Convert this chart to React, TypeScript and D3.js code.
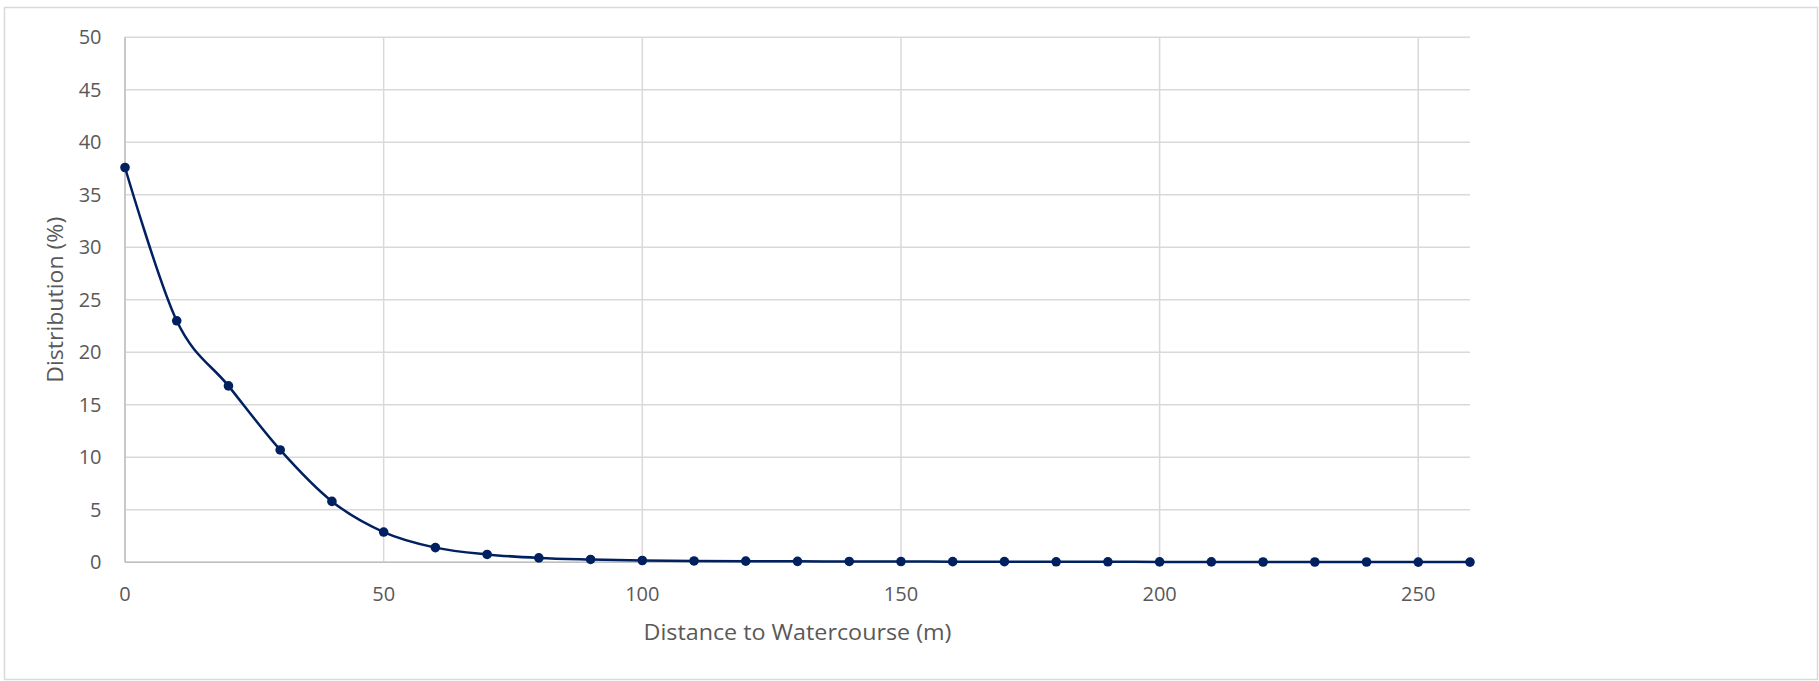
import React from "react";
import * as d3 from "d3";

const distances = [0, 10, 20, 30, 40, 50, 60, 70, 80, 90, 100, 110, 120, 130, 140, 150, 160, 170, 180, 190, 200, 210, 220, 230, 240, 250, 260];
const distribution = [37.6, 23.0, 16.8, 10.7, 5.8, 2.88, 1.4, 0.75, 0.42, 0.27, 0.17, 0.13, 0.11, 0.09, 0.08, 0.07, 0.06, 0.06, 0.05, 0.05, 0.04, 0.04, 0.03, 0.03, 0.03, 0.02, 0.02];
const xTicks = [0, 50, 100, 150, 200, 250];
const yTicks = [0, 5, 10, 15, 20, 25, 30, 35, 40, 45, 50];
const xTitle = "Distance to Watercourse (m)";
const yTitle = "Distribution (%)";

const W = 1819;
const H = 681;
const M = { left: 125, right: 1470, top: 37.3, bottom: 562.3 };
const FONT = "'Open Sans', 'Liberation Sans', Arial, sans-serif";
const TXT = "#595959";
const GRID = "#d9d9d9";
const LINE = "#002060";

export default function App() {
  const x = d3.scaleLinear().domain([0, 260]).range([M.left, M.right]);
  const y = d3.scaleLinear().domain([0, 50]).range([M.bottom, M.top]);
  const pts = distances.map((d, i) => [d, distribution[i]] as [number, number]);
  const line = d3
    .line<[number, number]>()
    .x((d) => x(d[0]))
    .y((d) => y(d[1]))
    .curve(d3.curveCardinal.tension(0));

  return (
    <svg width={W} height={H} style={{ position: "absolute", left: 0, top: 0, display: "block" }}>
      <rect x={0} y={0} width={W} height={H} fill="#fff" />
      <rect x={4.5} y={7.5} width={1813} height={672} fill="#fff" stroke={GRID} strokeWidth={1.5} />
      {yTicks.map((t) => (
        <line key={"gy" + t} x1={M.left} x2={M.right} y1={y(t)} y2={y(t)} stroke={GRID} strokeWidth={1.5} />
      ))}
      {xTicks.map((t) => (
        <line key={"gx" + t} x1={x(t)} x2={x(t)} y1={M.top} y2={M.bottom} stroke={GRID} strokeWidth={1.5} />
      ))}
      <line x1={M.left} x2={M.left} y1={M.top} y2={M.bottom} stroke="#bfbfbf" strokeWidth={1.5} />
      <line x1={M.left} x2={M.right} y1={M.bottom} y2={M.bottom} stroke="#bfbfbf" strokeWidth={1.5} />
      {yTicks.map((t) => (
        <text key={"ly" + t} x={101.5} y={y(t)} dy="0.35em" textAnchor="end" fontFamily={FONT} fontSize={20} fill={TXT}>
          {t}
        </text>
      ))}
      {xTicks.map((t) => (
        <text key={"lx" + t} x={x(t)} y={601} textAnchor="middle" fontFamily={FONT} fontSize={20} fill={TXT}>
          {t}
        </text>
      ))}
      <text
        x={(M.left + M.right) / 2}
        y={640}
        textAnchor="middle"
        fontFamily={FONT}
        fontSize={22}
        fill={TXT}
        textLength={308}
        lengthAdjust="spacingAndGlyphs"
      >
        {xTitle}
      </text>
      <text
        transform={`translate(63,${(M.top + M.bottom) / 2}) rotate(-90)`}
        textAnchor="middle"
        fontFamily={FONT}
        fontSize={22}
        fill={TXT}
        textLength={166}
        lengthAdjust="spacingAndGlyphs"
      >
        {yTitle}
      </text>
      <path d={line(pts) || ""} fill="none" stroke={LINE} strokeWidth={2.5} />
      {pts.map((p, i) => (
        <circle key={"p" + i} cx={x(p[0])} cy={y(p[1])} r={4.8} fill={LINE} />
      ))}
    </svg>
  );
}
